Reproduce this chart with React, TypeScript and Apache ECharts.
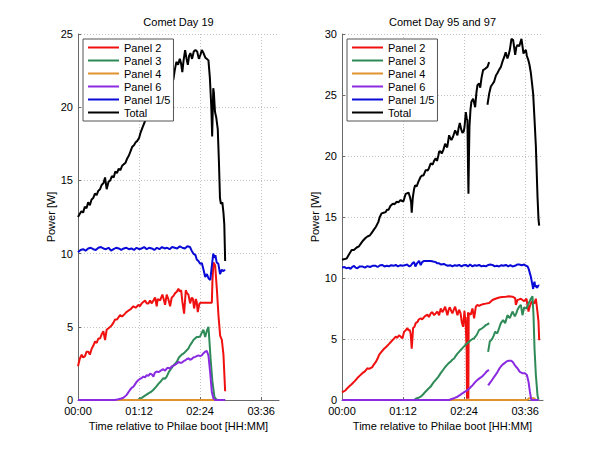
import React, { useEffect, useRef } from 'react';
import * as echarts from 'echarts';

// ---------- names / texts ----------
const SERIES_NAMES = ['Panel 2', 'Panel 3', 'Panel 4', 'Panel 6', 'Panel 1/5', 'Total'];
const TITLES = ['Comet Day 19', 'Comet Day 95 and 97'];
const X_NAME = 'Time relative to Philae boot [HH:MM]';
const Y_NAME = 'Power [W]';
const Y_MAX = [25, 30];

// ---------- Comet Day 19 (time in minutes, power in W) ----------
const L_P2: [number, number][] = [[0,2.3],[2,2.8],[4.3,3.1],[6,2.9],[8.3,3.0],[10,3.3],[12.2,3.3],[14,3.1],[16.1,3.5],[18,3.7],[20.1,4.0],[22,3.9],[24,4.2],[26,4.2],[28,4.5],[29.9,4.7],[31.9,4.1],[33.8,4.8],[36,4.9],[38,5.0],[39.7,5.1],[42,5.3],[43.7,5.5],[46,5.5],[49.6,5.8],[52,5.7],[55.5,5.9],[57,6.0],[59.4,6.1],[62,6.2],[65.3,6.4],[68,6.3],[71.2,6.5],[73,6.4],[75.1,6.6],[77,6.7],[79.1,6.8],[81,6.6],[83,6.6],[85,6.8],[87,6.6],[88.9,6.8],[90.9,7.0],[92.8,6.4],[94,6.9],[96.8,6.8],[99.5,7.2],[101,6.9],[102.7,6.5],[104.6,7.2],[106.5,6.9],[108.6,6.4],[110.5,7.0],[112.5,7.1],[114.5,7.3],[116.5,7.4],[118.4,7.6],[120,7.4],[121.6,7.5],[123.1,6.7],[125.1,5.9],[127.1,7.5],[128.5,7.3],[130.2,7.2],[132.2,6.6],[134.1,7.0],[135.5,6.9],[136.9,6.25],[138.9,6.9],[140,6.7],[141.2,6.0],[143.2,6.6],[145.2,6.65],[157.8,6.65],[158.5,8.1],[159.7,9.4],[161.7,9.2],[163.7,7.6],[165.6,5.8],[167.6,4.4],[169.6,4.1],[171.5,3.1],[173.5,0.6]];
const L_P3: [number, number][] = [[0,0],[70,0],[73,0.1],[75.1,0.15],[79,0.3],[83,0.45],[86,0.55],[88.9,0.7],[92,0.9],[94.8,1.1],[98,1.3],[100.7,1.5],[102.5,1.45],[104.6,1.6],[107,1.9],[110.5,2.2],[113,2.4],[116.4,2.6],[119,2.9],[122.3,3.1],[125,3.2],[128.2,3.4],[130,3.5],[132.2,3.75],[134,3.9],[136.1,4.1],[138,4.2],[140,4.3],[142,4.3],[144,4.35],[146,4.6],[147.9,4.8],[149.9,4.3],[151.8,4.7],[153.8,5.0],[155,4.0],[156.6,2.6],[158.5,1.25],[160.9,0.2],[163.7,0],[173.5,0]];
const L_P4: [number, number][] = [[0,0],[40,0],[80,0],[120,0],[160,0],[173.5,0]];
const L_P6: [number, number][] = [[0,0],[43.7,0],[47.6,0.05],[51,0.1],[53.5,0.15],[57.4,0.35],[61.4,0.7],[63.5,0.85],[65.3,0.9],[67,1.05],[69.2,1.25],[71,1.35],[73.2,1.45],[75,1.5],[77.1,1.6],[79,1.55],[81,1.7],[83,1.65],[85,1.8],[87,1.75],[88.9,1.6],[90.5,1.85],[92.8,1.95],[95,1.9],[98.7,2.05],[100.5,2.1],[102.7,2.0],[104.5,2.15],[106.6,2.2],[108.5,2.15],[110.5,2.3],[112.5,2.35],[114.5,2.4],[116.5,2.5],[118.4,2.6],[120.5,2.55],[122.3,2.55],[124.5,2.65],[126.3,2.7],[128.5,2.8],[130.2,2.85],[132,2.75],[134.1,2.8],[136,2.9],[138.1,2.95],[140,3.0],[142,3.05],[144,3.0],[145.9,3.05],[148,3.2],[149.9,3.3],[151.8,3.35],[153.8,3.05],[155.8,1.9],[157.8,0.55],[159.7,0.1],[161.7,0],[173.5,0]];
const L_P15: [number, number][] = [[0,10.1],[3,10.25],[6,10.3],[9,10.2],[12,10.35],[15,10.4],[18,10.3],[21,10.25],[24,10.4],[27,10.45],[30,10.35],[33,10.3],[36,10.4],[39,10.2],[42,10.3],[45,10.4],[48,10.35],[51,10.25],[54,10.35],[57,10.4],[60,10.3],[63,10.35],[66,10.25],[69,10.4],[72,10.3],[75,10.35],[78,10.45],[81,10.3],[84,10.4],[87,10.35],[90,10.25],[93,10.4],[96,10.3],[99,10.45],[102,10.35],[105,10.4],[108,10.3],[111,10.45],[114,10.4],[117,10.35],[120,10.5],[123,10.4],[126,10.35],[129,10.5],[132,10.45],[134,10.2],[136,10.0],[138.5,9.9],[140,9.6],[142,9.5],[144,9.3],[146,9.35],[148,8.9],[150,8.4],[152,8.6],[154,8.3],[156,8.2],[157.5,9.0],[159.5,10.0],[161,9.7],[162,9.9],[163.5,9.4],[165.5,9.3],[167.5,8.6],[169.5,8.9],[171,8.8],[173.5,8.9]];
const L_TOT: [number, number][] = [[0,12.5],[2,12.7],[4,12.9],[6,12.8],[8,13.2],[10,13.1],[12,13.5],[14,13.3],[16,13.7],[18,13.8],[20,14.1],[22,14.0],[24,14.3],[26,14.4],[28,14.7],[30,14.8],[31.9,15.2],[33.8,14.4],[36,14.9],[38,15.0],[40,15.3],[42,15.2],[44,15.6],[46,15.5],[48,15.8],[50,15.7],[52,16.0],[54,16.1],[56,16.2],[58,16.5],[60,16.7],[62,17.0],[64,17.3],[66,17.4],[68,17.6],[70,17.7],[72,17.9],[74,18.3],[76,18.6],[78,18.9],[80,19.2],[85,19.6],[90,20.0],[95,20.4],[100,20.8],[105,21.2],[110,21.6],[112.5,21.9],[114,22.5],[116,23.1],[118,22.9],[120,23.3],[121.5,23.0],[123,22.4],[124.5,23.2],[126.3,23.9],[128,23.3],[129.5,22.9],[131,23.5],[132.5,23.7],[134.5,23.3],[136.5,23.8],[138.5,23.9],[140.5,23.8],[142.5,23.3],[144.5,23.6],[146,23.9],[148,23.7],[150,23.4],[152,23.3],[153.8,23.2],[155.5,22.0],[157.2,20.0],[158.2,18.0],[159.5,21.3],[160.2,21.0],[161.5,19.7],[163,19.3],[164.8,18.5],[166.2,16.2],[167.4,13.8],[168.5,13.4],[170.2,13.5],[171.5,12.8],[172.5,12.0],[173.5,9.5]];

// ---------- Comet Day 95 and 97 ('-' marks the break between the two days) ----------
const R_P2: [number, number][] = [[0,0.63],[2,0.7],[4.3,0.8],[6,0.95],[8.3,1.1],[10,1.2],[12.2,1.35],[15,1.55],[18.1,1.8],[21,2.0],[24,2.2],[27,2.35],[29.9,2.6],[32,2.55],[35.8,2.7],[37.5,2.9],[39.7,3.1],[42,3.4],[43.7,3.7],[46,3.9],[49.6,4.2],[52,4.35],[55.5,4.6],[57.5,4.75],[59.4,4.9],[61,5.0],[63.3,5.2],[65,5.1],[67.3,5.3],[69,5.2],[71.2,5.05],[73.2,5.6],[75,5.7],[77.1,5.9],[78.5,5.7],[79.9,5.75],[81,5.4],[82.2,4.2],[83.2,5.2],[83.8,5.9],[85.5,6.0],[86.9,6.3],[89,6.4],[90.5,6.6],[92.8,6.7],[94.5,6.6],[96.8,6.8],[98.5,6.9],[100.7,7.0],[102.5,6.8],[104.6,7.1],[106.5,7.2],[108.6,6.95],[110.5,7.1],[112.5,7.25],[114.5,6.95],[116.4,7.5],[118.4,7.2],[120,7.4],[121.6,7.65],[123,7.3],[124.3,6.95],[125.8,7.4],[127.1,7.6],[128.8,7.3],[130.2,7.1],[131.8,7.4],[133.4,7.65],[134.8,7.3],[136.1,6.95],[138.1,7.4],[139.8,7.1],[141.2,6.4],[142.8,6.0],[144.4,7.3],[146,6.0],[147,4.0],[147.4,0.1],[147.8,6.8],[148.2,0.1],[148.6,7.2],[149,0.1],[149.4,7.0],[150,7.1],[151.9,7.0],[153.8,7.5],[155.8,6.7],[157.8,7.65],[159.7,7.8],[161.7,7.7],[163.7,7.8],[166,7.85],[169.6,7.9],[173.5,7.95],[177.4,8.2],[181,8.3],[185.3,8.4],[189,8.45],[193.2,8.47],[197,8.5],[201,8.47],[204.2,8.35],[205,7.8],[206.9,8.2],[209,8.25],[210.9,8.3],[212.8,8.2],[214.8,8.1],[217.5,8.3],[219.9,7.25],[221.5,7.7],[223.8,8.1],[226.6,7.9],[228.6,8.3],[230.5,7.2],[231.7,6.4],[232.5,4.9]];
const R_P3: [number, number | string][] = [[0,0],[85,0],[87,0.1],[90,0.18],[92.8,0.27],[95.5,0.45],[98.7,0.7],[101.5,0.9],[104.6,1.1],[107.5,1.4],[110.5,1.65],[113.5,1.9],[116.4,2.2],[119.5,2.5],[122.3,2.75],[125.5,3.0],[128.2,3.15],[130,3.3],[132.2,3.4],[134,3.6],[136.1,3.8],[138,3.95],[140,4.1],[142,4.25],[144,4.4],[146,4.55],[147.9,4.65],[150,4.8],[151.8,4.9],[153.8,5.0],[155.8,5.05],[157.2,5.2],[158.5,5.3],[160,5.5],[161.7,5.75],[163.5,5.8],[165.6,5.9],[167.5,6.0],[169.6,6.15],[171.5,6.2],[173.5,6.3],[173.6,'-'],[172.3,3.95],[174.3,4.8],[175.8,4.9],[177.4,5.05],[179,5.3],[180.6,5.6],[182,5.5],[183.3,5.5],[185.3,5.9],[187.3,6.3],[190,6.55],[192.4,6.3],[195.1,6.95],[197.9,6.7],[199.5,7.0],[201,7.25],[203.8,6.85],[205.5,7.1],[206.9,7.4],[208.9,7.65],[210.9,7.8],[212.8,6.95],[214.8,7.6],[217.5,7.5],[219.9,7.9],[222.7,8.3],[224.6,8.5],[225.8,6.95],[227,4.2],[228.6,2.05],[230.5,0.4],[231.7,0]];
const R_P4: [number, number][] = [[0,0],[60,0],[120,0],[180,0],[218,0],[221,0.15],[226,0.15],[229,0],[232,0]];
const R_P6: [number, number | string][] = [[0,0],[126.3,0],[130.2,0.1],[133,0.18],[136.1,0.27],[139,0.4],[142,0.55],[145,0.68],[147.9,0.8],[151,1.0],[153.8,1.2],[156.8,1.45],[159.7,1.65],[161.7,1.75],[163.7,1.85],[165.5,1.95],[167.6,2.1],[169.5,2.25],[171.5,2.4],[173.5,2.45],[173.6,'-'],[172.3,1.2],[175.5,1.5],[177.5,1.7],[179.4,1.9],[181.5,2.1],[183.3,2.3],[185.3,2.55],[187.3,2.75],[189.3,2.9],[191.2,3.0],[193,3.1],[195.1,3.2],[197,3.22],[199.1,3.22],[201,3.15],[202.5,3.0],[203.8,2.85],[205.5,2.7],[206.9,2.6],[208.3,2.45],[209.7,2.3],[211.3,2.25],[212.8,2.2],[215.6,2.2],[218,2.05],[219.9,1.5],[221.5,0.7],[223.1,0.05],[224.6,0],[232,0]];
const R_P15: [number, number][] = [[0,10.87],[3,10.9],[5,10.8],[8,10.85],[10,10.75],[12,10.9],[14.2,11.0],[16,10.85],[18.1,10.8],[21,10.95],[24,10.95],[27,10.85],[30,10.97],[33,10.9],[36,11.0],[39.7,11.0],[42,10.9],[45,11.05],[47.6,11.07],[50,10.95],[53,11.0],[55.5,10.95],[58,11.05],[61,11.0],[63.3,11.07],[66,10.95],[69,11.05],[71.2,11.0],[74,11.05],[77.1,11.1],[79,10.95],[81,11.0],[83,11.2],[85,11.3],[86.5,10.95],[88.5,11.2],[90.9,11.4],[92.8,11.05],[94.5,11.3],[96.8,11.4],[100,11.4],[104.6,11.4],[107.5,11.35],[110.5,11.3],[112.5,11.2],[114.5,11.2],[117,11.1],[120,11.15],[122.3,11.07],[125,11.0],[127.5,11.05],[130.2,10.95],[133,11.05],[135.5,11.0],[138.1,11.07],[141,10.95],[143.5,11.05],[146,11.07],[148.5,10.95],[151,11.1],[153.8,10.95],[156.5,11.05],[159,11.0],[161.7,11.07],[164.5,10.95],[167,11.0],[169.6,10.95],[172,11.05],[174.5,11.1],[177.4,11.07],[180,10.95],[182.5,11.0],[185.3,10.95],[188,11.05],[190.5,11.0],[193.2,11.07],[196,10.95],[198.5,11.05],[201,10.95],[204,11.0],[206.5,11.1],[209,11.1],[212,11.05],[214.8,11.1],[217,11.0],[218.8,10.95],[220.3,10.7],[221.5,10.4],[222.7,10.1],[223.8,9.7],[224.6,9.4],[225.4,9.1],[226.2,9.5],[227,9.7],[227.8,9.3],[228.6,9.4],[229.5,9.2],[230.5,9.25],[231.5,9.4],[232.5,9.35]];
const R_TOT: [number, number | string][] = [[0,11.5],[3,11.55],[5.5,11.6],[8,11.9],[11.4,12.3],[14,12.3],[17.3,12.5],[20,12.6],[23,12.9],[25.2,13.1],[28,13.3],[30,13.4],[33,13.5],[35,13.7],[37,13.9],[40,14.2],[42.9,14.6],[44.5,15.0],[46.8,15.3],[49,15.35],[51.5,15.4],[53,15.6],[55,15.6],[57,15.9],[58.6,16.0],[60,16.1],[62,16.05],[64.5,16.25],[66.5,16.2],[69.2,16.4],[71,16.3],[72.5,16.3],[75.1,16.9],[77,16.95],[78.5,17.0],[80.3,16.6],[81.5,16.2],[82.2,15.35],[83.5,16.6],[85,17.3],[86.2,17.6],[88,17.5],[90.1,17.9],[92.8,18.3],[94.5,18.4],[96,18.4],[98.7,18.85],[101,18.8],[102.5,19.0],[104.6,19.4],[107,19.3],[108.5,19.6],[110.5,19.8],[112,19.6],[113.5,20.0],[114.5,20.35],[116,20.4],[117.6,20.2],[119.5,20.5],[121.6,21.0],[124,20.7],[126.3,21.7],[127.5,21.5],[129,21.3],[131,21.6],[133.4,22.1],[134.8,21.9],[136.1,21.7],[137.5,22.3],[138.9,22.7],[140.5,22.2],[142,21.9],[143.5,22.0],[144.5,22.4],[146,23.6],[147.2,23.0],[147.9,22.95],[148.6,19.0],[149.1,16.9],[149.7,20.0],[150.3,22.4],[151.5,23.8],[152.6,24.45],[154.6,24.7],[156,24.3],[157,24.0],[158.5,25.2],[159.7,25.8],[161.7,25.95],[163,25.6],[164.5,26.4],[166.4,27.05],[168,27.1],[169.6,27.2],[171.5,27.3],[173.5,27.7],[173.6,'-'],[171.5,24.2],[173.5,25.1],[175.5,25.7],[177.5,25.9],[179.4,26.1],[181.5,26.6],[183.3,26.8],[185.5,27.1],[187.3,27.3],[189.5,27.8],[191.2,28.1],[193,28.5],[195.1,28.0],[196.5,28.3],[197.9,28.7],[199.8,29.6],[201.8,29.5],[203,28.9],[204.2,28.3],[205.5,28.9],[206.9,29.1],[209,29.0],[211.6,29.6],[213,28.9],[214,28.4],[215.5,28.6],[216.8,28.7],[218,28.2],[219.5,27.9],[221,27.5],[222.7,26.8],[224,26.0],[225.4,25.1],[227,23.0],[228.6,20.8],[230.5,16.7],[231.7,14.8],[232.5,14.3]];

const LEFT_DATA = [L_P2, L_P3, L_P4, L_P6, L_P15, L_TOT];
const RIGHT_DATA = [R_P2, R_P3, R_P4, R_P6, R_P15, R_TOT];

const COLORS = ['#f01010', '#2e8b57', '#e0922e', '#8a2be2', '#0a0ad8', '#000000'];
const FONT = '"Liberation Sans", Arial, Helvetica, sans-serif';
const LEGEND_ICON = 'path://M0,0L31,0L31,2L0,2Z';

const fmtTime = (v: number) => {
  const h = Math.floor(v / 60);
  const m = Math.round(v - h * 60);
  return `${String(h).padStart(2, '0')}:${String(m).padStart(2, '0')}`;
};

function buildOption() {
  const grids = [
    { left: 78, top: 34, width: 201, height: 366 },
    { left: 342, top: 34, width: 201, height: 366 },
  ];
  const axisColor = '#6a6a6a';
  const gridLine = { show: true, showMaxLine: false, lineStyle: { color: '#c2c2c2', type: [1, 2], width: 1 } };
  const xAxis = [0, 1].map((i) => ({
    type: 'value', gridIndex: i, min: 0, max: 237, interval: 72,
    name: X_NAME, nameLocation: 'middle', nameGap: 17,
    nameTextStyle: { fontSize: 11, color: '#000', fontFamily: FONT },
    axisLine: { show: true, onZero: false, lineStyle: { color: axisColor } },
    axisTick: { show: true, inside: true, length: 3, lineStyle: { color: axisColor } },
    axisLabel: { color: '#000', fontSize: 11, lineHeight: 11, fontFamily: FONT, margin: 5, formatter: fmtTime, showMaxLabel: false },
    splitLine: gridLine,
  }));
  const yAxis = [0, 1].map((i) => ({
    type: 'value', gridIndex: i, min: 0, max: Y_MAX[i], interval: 5,
    name: Y_NAME, nameLocation: 'middle', nameGap: 20,
    nameTextStyle: { fontSize: 11, color: '#000', fontFamily: FONT },
    axisLine: { show: true, onZero: false, lineStyle: { color: axisColor } },
    axisTick: { show: true, inside: true, length: 3, lineStyle: { color: axisColor } },
    axisLabel: { color: '#000', fontSize: 11, lineHeight: 11, fontFamily: FONT, margin: 5 },
    splitLine: { show: true, lineStyle: { color: '#c2c2c2', type: [1, 2], width: 1 } },
  }));
  const series: any[] = [];
  [LEFT_DATA, RIGHT_DATA].forEach((set, gi) => {
    set.forEach((data, si) => {
      series.push({
        type: 'line', name: SERIES_NAMES[si], xAxisIndex: gi, yAxisIndex: gi,
        data, showSymbol: false, symbol: 'none', connectNulls: false,
        lineStyle: { color: COLORS[si], width: 2 }, itemStyle: { color: COLORS[si] },
        emphasis: { disabled: true }, silent: true,
      });
    });
  });
  const legendBase = {
    orient: 'vertical', top: 39, backgroundColor: '#ffffff', borderColor: '#555555', borderWidth: 1,
    borderRadius: 0, padding: [3, 3, 3, 5], itemGap: 2, itemWidth: 31, itemHeight: 12,
    icon: LEGEND_ICON, symbolKeepAspect: true,
    textStyle: { fontSize: 11, color: '#000', fontFamily: FONT }, data: SERIES_NAMES, selectedMode: false,
  };
  return {
    animation: false,
    backgroundColor: '#ffffff',
    title: TITLES.map((t, i) => ({
      text: t, left: grids[i].left + grids[i].width / 2, top: 16, textAlign: 'center', padding: 0,
      textStyle: { fontSize: 11, fontWeight: 'normal', color: '#000', fontFamily: FONT },
    })),
    grid: grids.map((g) => ({ ...g, outerBoundsMode: 'none', containLabel: false })),
    legend: [
      { ...legendBase, left: 83 },
      { ...legendBase, left: 347 },
    ],
    xAxis, yAxis, series,
  };
}

export default function App() {
  const ref = useRef<HTMLDivElement>(null);
  useEffect(() => {
    const chart = echarts.init(ref.current as HTMLDivElement, null, { renderer: 'svg' });
    chart.setOption(buildOption() as any);
    return () => chart.dispose();
  }, []);
  return <div ref={ref} style={{ position: 'fixed', left: 0, top: 0, width: 600, height: 450 }} />;
}
